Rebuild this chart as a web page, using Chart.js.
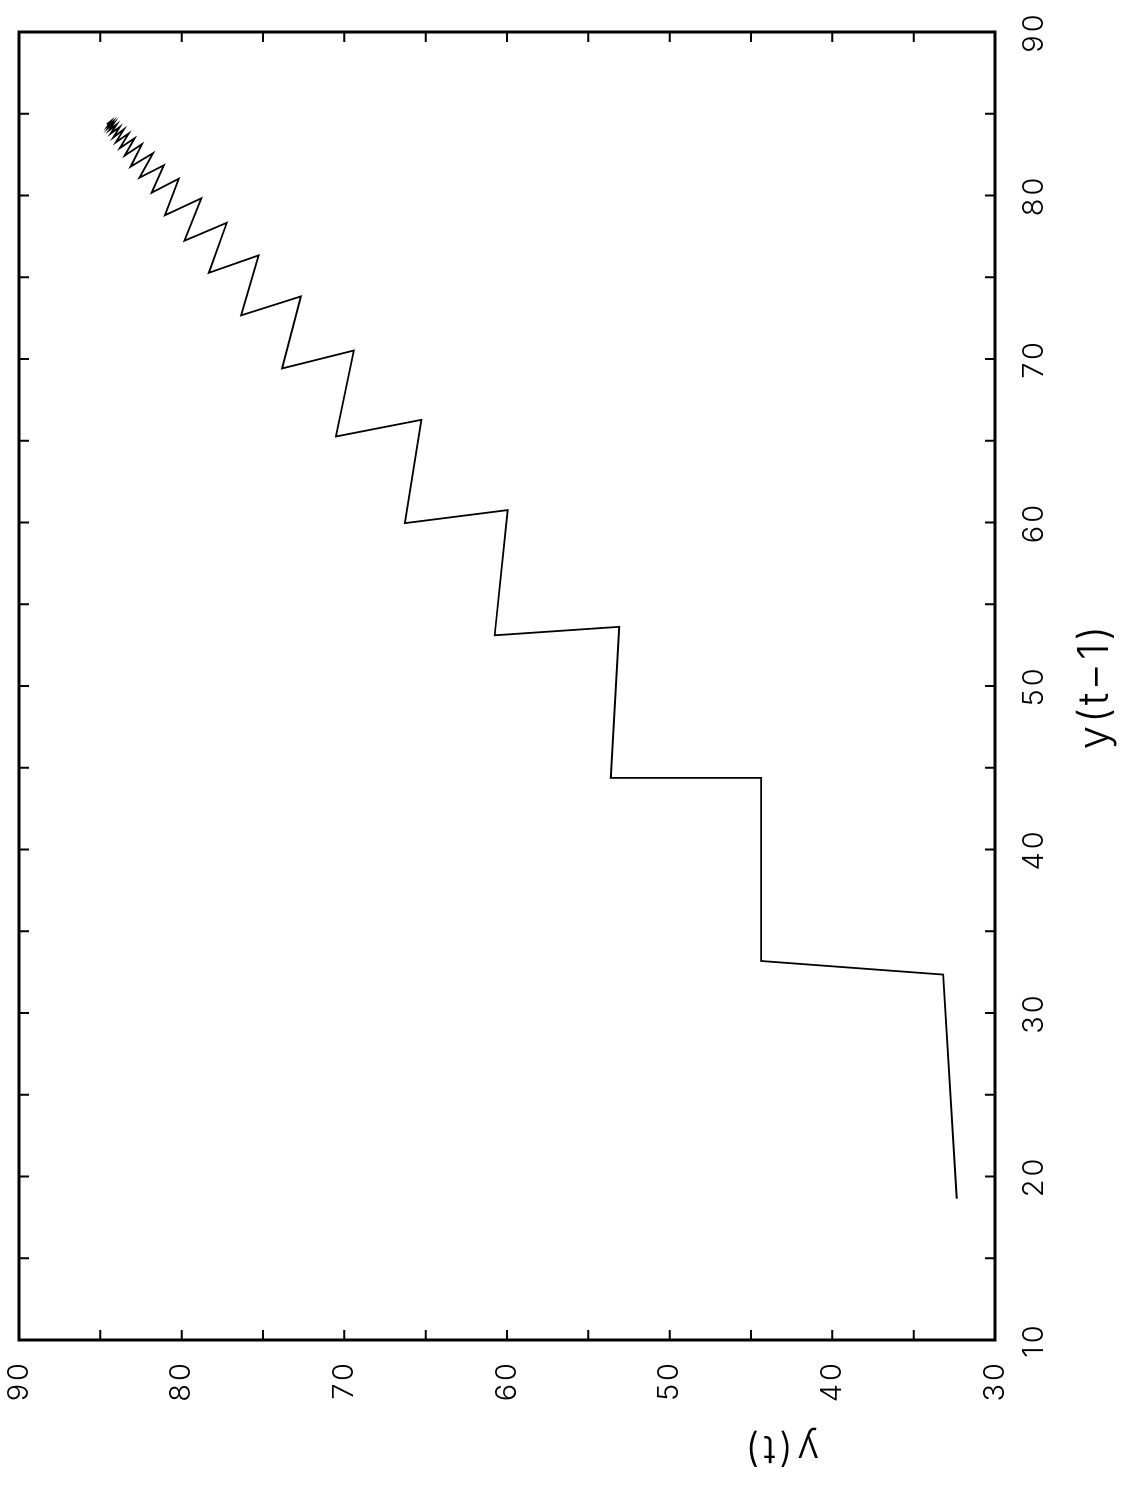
<!DOCTYPE html>
<html>
<head>
<meta charset="utf-8">
<script src="https://cdn.jsdelivr.net/npm/chart.js@4"></script>
<style>
  html, body { margin: 0; padding: 0; background: #fff; overflow: hidden; }
  #wrap {
    position: absolute; left: 0; top: 0;
    width: 1493px; height: 1127px;
    transform-origin: 0 0;
    transform: translate(0px, 1493px) rotate(-90deg);
    background: #fff;
  }
</style>
</head>
<body>
<div id="wrap"><canvas id="c" width="1493" height="1127"></canvas></div>
<script>
// ---- data (time series y(t)) ----
const ySeries = [18.64, 32.35, 33.18, 44.38, 44.38, 53.62, 53.1, 60.76, 59.96, 66.28,
  65.26, 70.52, 69.42, 73.83, 72.67, 76.34, 75.27, 78.33, 77.23, 79.83,
  78.79, 81.03, 80.17, 81.85, 81.09, 82.59, 81.76, 83.14, 82.44, 83.5,
  82.9, 83.8, 83.25, 84.05, 83.55, 84.2, 83.8, 84.35, 84.0, 84.45,
  84.15, 84.5, 84.25, 84.55, 84.35, 84.6];
const xAxisMin = 10, xAxisMax = 90;   // y(t-1)
const yAxisMin = 30, yAxisMax = 90;   // y(t)
const tickStep = 5, labelStep = 10;
const xTitle = 'y(t\u22121)';
const yTitle = 'y(t)';
const yTitleAt = 43.2;   // value along y(t) axis where its title sits

const lagPoints = [];
for (let i = 1; i < ySeries.length; i++) lagPoints.push({ x: ySeries[i - 1], y: ySeries[i] });

const FONT = 'Inter, "DejaVu Sans", sans-serif';

const framePlugin = {
  id: 'frame',
  beforeDraw(chart) { chart.ctx.letterSpacing = '3px'; },
  afterDatasetsDraw(chart) {
    const { ctx, chartArea: a, scales } = chart;
    ctx.save();
    ctx.letterSpacing = '0px';
    ctx.strokeStyle = '#000';
    ctx.lineWidth = 3;
    ctx.strokeRect(a.left, a.top, a.right - a.left, a.bottom - a.top);
    ctx.lineWidth = 2;
    const len = 10;
    ctx.beginPath();
    scales.x.ticks.forEach(t => {
      const p = scales.x.getPixelForValue(t.value);
      if (p <= a.left + 1 || p >= a.right - 1) return;
      ctx.moveTo(p, a.bottom); ctx.lineTo(p, a.bottom - len);
      ctx.moveTo(p, a.top); ctx.lineTo(p, a.top + len);
    });
    scales.y.ticks.forEach(t => {
      const p = scales.y.getPixelForValue(t.value);
      if (p <= a.top + 1 || p >= a.bottom - 1) return;
      ctx.moveTo(a.left, p); ctx.lineTo(a.left + len, p);
      ctx.moveTo(a.right, p); ctx.lineTo(a.right - len, p);
    });
    ctx.stroke();
    // y-axis title
    ctx.letterSpacing = '4px';
    ctx.fillStyle = '#000';
    ctx.font = '300 40px ' + FONT;
    ctx.textAlign = 'center';
    ctx.textBaseline = 'middle';
    ctx.translate(45, scales.y.getPixelForValue(yTitleAt));
    ctx.rotate(-Math.PI / 2);
    ctx.fillText(yTitle, 0, 0);
    ctx.restore();
  }
};

new Chart(document.getElementById('c'), {
  type: 'scatter',
  data: {
    datasets: [{
      data: lagPoints,
      showLine: true,
      borderColor: '#000',
      borderWidth: 1.8,
      pointRadius: 0,
      fill: false,
      tension: 0
    }]
  },
  options: {
    responsive: false,
    animation: false,
    devicePixelRatio: 1,
    layout: { padding: { top: 19, right: 32, bottom: 0, left: 0 } },
    plugins: { legend: { display: false }, tooltip: { enabled: false } },
    scales: {
      x: {
        type: 'linear', position: 'bottom', min: xAxisMin, max: xAxisMax,
        afterFit(s) { s.height = 132; s.paddingLeft = 0; s.paddingRight = 0; },
        grid: { drawOnChartArea: false, drawTicks: false },
        border: { display: false },
        ticks: {
          stepSize: tickStep, autoSkip: false, maxRotation: 0, padding: 22,
          color: '#000', font: { family: FONT, size: 29, weight: '300' },
          callback: v => (v % labelStep === 0 ? String(v) : '')
        },
        title: {
          display: true, text: xTitle, color: '#000',
          font: { family: FONT, size: 42, weight: '300' },
          padding: { top: 0, bottom: 6 }
        }
      },
      y: {
        type: 'linear', position: 'left', min: yAxisMin, max: yAxisMax,
        afterFit(s) { s.width = 153; s.paddingTop = 0; s.paddingBottom = 0; },
        grid: { drawOnChartArea: false, drawTicks: false },
        border: { display: false },
        ticks: {
          stepSize: tickStep, autoSkip: false, padding: 20,
          color: '#000', font: { family: FONT, size: 29, weight: '300' },
          callback: v => (v % labelStep === 0 ? String(v) : '')
        },
        title: { display: false }
      }
    }
  },
  plugins: [framePlugin]
});
</script>
</body>
</html>
